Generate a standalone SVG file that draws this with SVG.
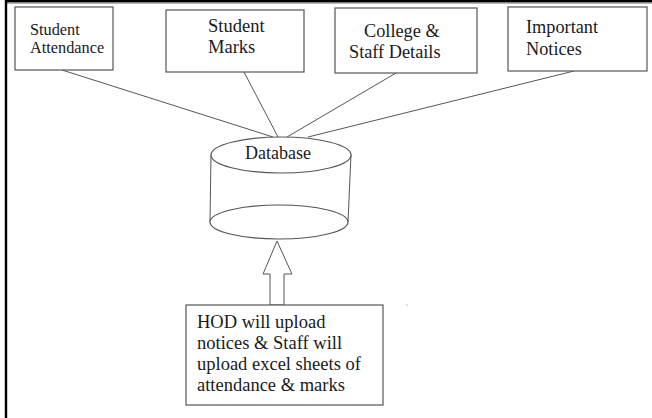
<svg xmlns="http://www.w3.org/2000/svg" width="652" height="418" viewBox="0 0 652 418">
<style>
.box{fill:#fff;stroke:#555;stroke-width:1.2}
.ln{stroke:#555;stroke-width:1;fill:none}
text{font-family:'Liberation Serif','DejaVu Serif',serif;fill:#1a1a1a}
</style>
<rect width="652" height="418" fill="#fff"/>
<g id="frame">
<line x1="5" y1="1.3" x2="652" y2="1.3" stroke="#000" stroke-width="2.6"/>
<line x1="5" y1="3.4" x2="652" y2="3.4" stroke="#999" stroke-width="0.8"/>
<line x1="6" y1="0" x2="6" y2="418" stroke="#000" stroke-width="2.4"/>
</g>
<g id="connectors">
<line class="ln" x1="62" y1="70" x2="273" y2="137"/>
<line class="ln" x1="244" y1="72" x2="278" y2="137"/>
<line class="ln" x1="396" y1="73" x2="287" y2="137"/>
<line class="ln" x1="574" y1="71" x2="308" y2="137"/>
</g>
<g id="n-attendance">
<rect class="box" x="15" y="7" width="98" height="63"/>
<text font-family="Liberation Serif, serif" font-size="16.3" x="30" y="35">Student</text>
<text font-family="Liberation Serif, serif" font-size="16.3" x="30" y="53">Attendance</text>
</g>
<g id="n-marks">
<rect class="box" x="166" y="10" width="138" height="62"/>
<text font-family="Liberation Serif, serif" font-size="18.5" x="208" y="32">Student</text>
<text font-family="Liberation Serif, serif" font-size="18.5" x="208" y="53">Marks</text>
</g>
<g id="n-college">
<rect class="box" x="335" y="8" width="142" height="65"/>
<text font-family="Liberation Serif, serif" font-size="18.3" x="364" y="37">College &amp;</text>
<text font-family="Liberation Serif, serif" font-size="18.3" x="349" y="58">Staff Details</text>
</g>
<g id="n-notices">
<rect class="box" x="508" y="7" width="139" height="64"/>
<text font-family="Liberation Serif, serif" font-size="18.3" x="526" y="33">Important</text>
<text font-family="Liberation Serif, serif" font-size="18.3" x="526" y="55">Notices</text>
</g>
<g id="n-database">
<path class="ln" d="M211 155 L210 222 M351 155 L348 222"/>
<ellipse class="box" cx="279" cy="222" rx="69" ry="17"/>
<ellipse class="box" cx="281" cy="155" rx="70" ry="18"/>
<text font-family="Liberation Serif, serif" font-size="18" x="278" y="159" text-anchor="middle">Database</text>
</g>
<g id="arrow">
<path d="M277 241 L292 274 L284 274 L284 305 L270 305 L270 274 L263 274 Z" fill="#fff" stroke="#555" stroke-width="1"/>
</g>
<g id="n-upload">
<rect class="box" x="186" y="305" width="197" height="100"/>
<text font-family="Liberation Serif, serif" font-size="18.5" x="197" y="328">HOD will upload</text>
<text font-family="Liberation Serif, serif" font-size="18.5" x="197" y="349">notices &amp; Staff will</text>
<text font-family="Liberation Serif, serif" font-size="18.5" x="197" y="370">upload excel sheets of</text>
<text font-family="Liberation Serif, serif" font-size="18.5" x="197" y="391">attendance &amp; marks</text>
</g>
<rect x="406.5" y="304.5" width="1" height="1" fill="#888"/>
</svg>
